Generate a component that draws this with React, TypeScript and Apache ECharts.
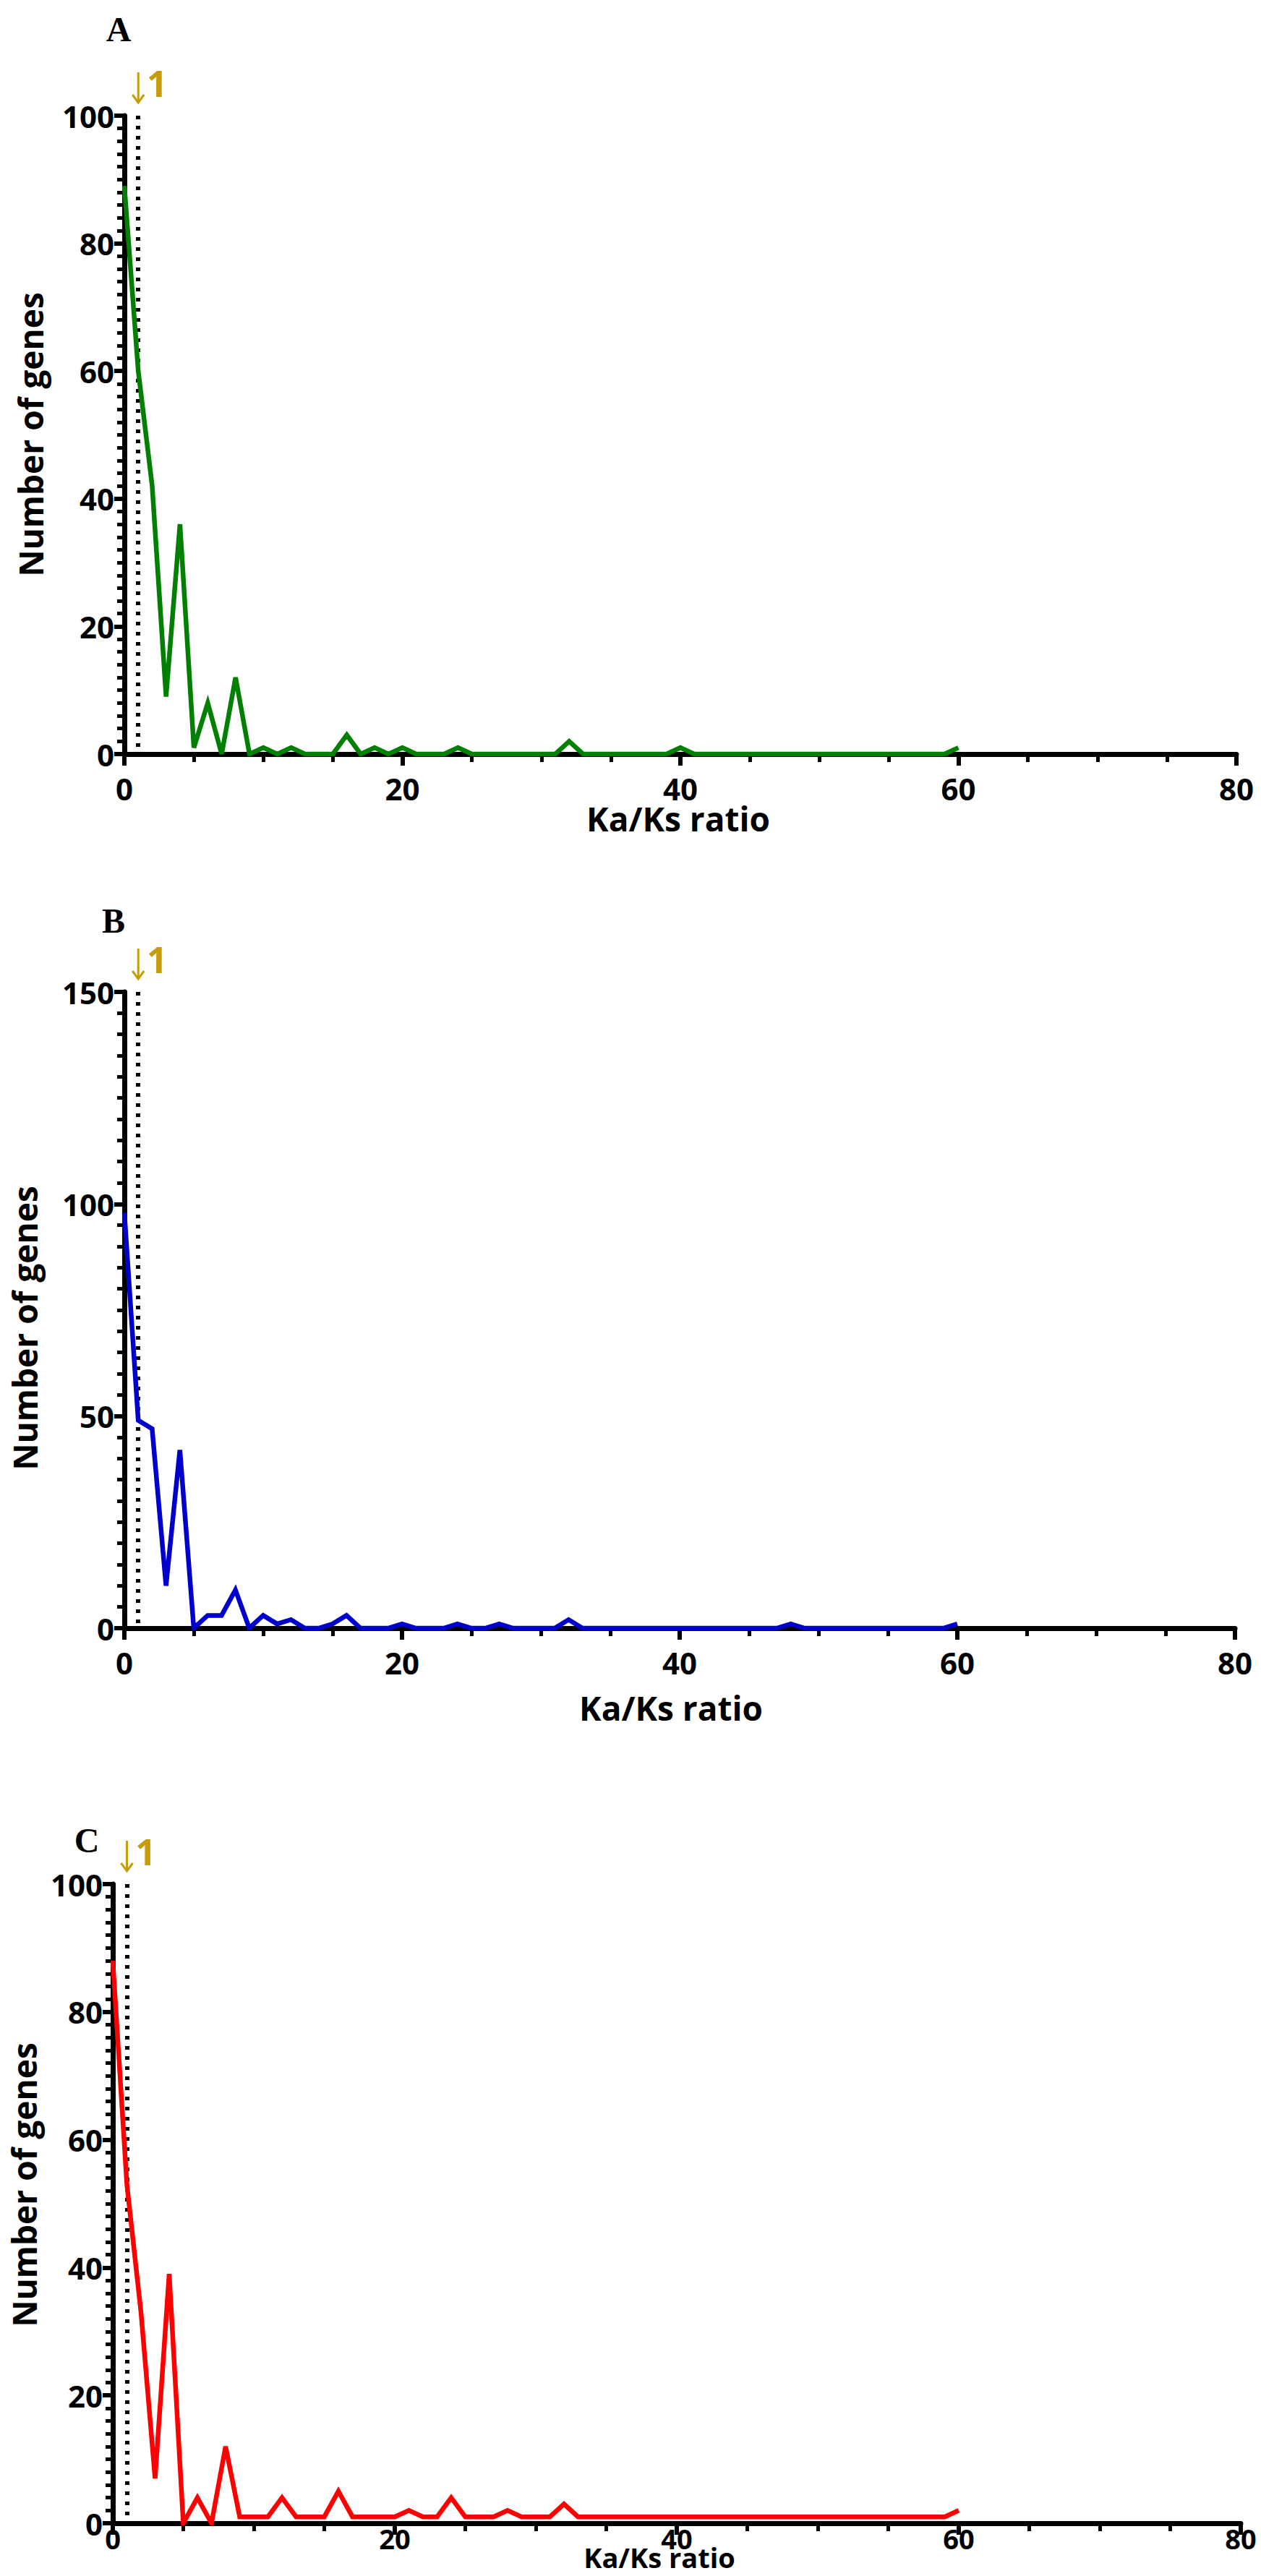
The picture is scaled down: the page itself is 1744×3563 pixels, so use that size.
import React, { useEffect, useRef } from "react";
import * as echarts from "echarts";

// Ka/Ks ratio bins (x positions of the histogram line)
const KAKS_BINS = [
  0, 1, 2, 3, 4, 5, 6, 7, 8, 9,
  10, 11, 12, 13, 14, 15, 16, 17, 18, 19,
  20, 21, 22, 23, 24, 25, 26, 27, 28, 29,
  30, 31, 32, 33, 34, 35, 36, 37, 38, 39,
  40, 41, 42, 43, 44, 45, 46, 47, 48, 49,
  50, 51, 52, 53, 54, 55, 56, 57, 58, 59,
  60,
];

// Panel A (green)
const GENES_A = [
  89, 60, 42, 9, 36, 1, 8, 0, 12, 0,
  1, 0, 1, 0, 0, 0, 3, 0, 1, 0,
  1, 0, 0, 0, 1, 0, 0, 0, 0, 0,
  0, 0, 2, 0, 0, 0, 0, 0, 0, 0,
  1, 0, 0, 0, 0, 0, 0, 0, 0, 0,
  0, 0, 0, 0, 0, 0, 0, 0, 0, 0,
  1,
];

// Panel B (blue)
const GENES_B = [
  98, 49, 47, 10, 42, 0, 3, 3, 9, 0,
  3, 1, 2, 0, 0, 1, 3, 0, 0, 0,
  1, 0, 0, 0, 1, 0, 0, 1, 0, 0,
  0, 0, 2, 0, 0, 0, 0, 0, 0, 0,
  0, 0, 0, 0, 0, 0, 0, 0, 1, 0,
  0, 0, 0, 0, 0, 0, 0, 0, 0, 0,
  1,
];

// Panel C (red)
const GENES_C = [
  88, 53, 33, 7, 39, 0, 4, 0, 12, 1,
  1, 1, 4, 1, 1, 1, 5, 1, 1, 1,
  1, 2, 1, 1, 4, 1, 1, 1, 2, 1,
  1, 1, 3, 1, 1, 1, 1, 1, 1, 1,
  1, 1, 1, 1, 1, 1, 1, 1, 1, 1,
  1, 1, 1, 1, 1, 1, 1, 1, 1, 1,
  2,
];

const PANEL_LETTERS = ["A", "B", "C"];
const X_TICKS = [0, 20, 40, 60, 80];
const Y_MAX = [100, 150, 100];
const Y_INTERVAL = [20, 50, 20];
const LINE_COLORS = ["#008000", "#0000CC", "#FF0000"];
const THRESHOLD = 1;
const X_TITLE = "Ka/Ks ratio";
const Y_TITLE = "Number of genes";

const FONT = "'Open Sans', 'Noto Sans', sans-serif";
const GOLD = "#C89B0C";

// layout (pixels)
const GRIDS = [
  { left: 172, top: 160, right: 34, height: 883 },
  { left: 172, top: 1372, right: 36, height: 880 },
  { left: 156, top: 2606, right: 28, height: 884 },
];
const LETTER_POS = [
  [164, 40],
  [157, 1273],
  [120, 2545],
];
const X_LABEL_MARGIN = [26, 26, 2];
const X_LABEL_SIZE = [42, 42, 38];
const Y_TITLE_POS = [
  [42, 601],
  [34, 1837],
  [33, 3022],
];
const X_TITLE_POS = [
  [938, 1132],
  [928, 2362],
  [912, 3537],
];
const X_TITLE_SIZE = [46, 46, 38];

export default function App() {
  const ref = useRef<HTMLDivElement>(null);

  useEffect(() => {
    if (!ref.current) return;
    const chart = echarts.init(ref.current, null, { renderer: "svg" });
    const values = [GENES_A, GENES_B, GENES_C];

    const grid = GRIDS.map((g) => ({ ...g, containLabel: false }));
    const xAxis = GRIDS.map((_, i) => ({
      type: "value",
      gridIndex: i,
      min: X_TICKS[0],
      max: X_TICKS[X_TICKS.length - 1],
      interval: X_TICKS[1] - X_TICKS[0],
      axisLine: { show: true, lineStyle: { color: "#000", width: 7 } },
      axisTick: { show: true, length: 16, lineStyle: { color: "#000", width: 6 } },
      minorTick: { show: true, splitNumber: 4, length: 11, lineStyle: { color: "#000", width: 5 } },
      splitLine: { show: false },
      minorSplitLine: { show: false },
      axisLabel: {
        color: "#000",
        fontFamily: FONT,
        fontWeight: "bold",
        fontSize: X_LABEL_SIZE[i],
        margin: X_LABEL_MARGIN[i],
      },
    }));
    const yAxis = GRIDS.map((_, i) => ({
      type: "value",
      gridIndex: i,
      min: 0,
      max: Y_MAX[i],
      interval: Y_INTERVAL[i],
      axisLine: { show: true, lineStyle: { color: "#000", width: 7 } },
      axisTick: { show: true, length: 14, lineStyle: { color: "#000", width: 6 } },
      minorTick: { show: true, splitNumber: 10, length: 10, lineStyle: { color: "#000", width: 5 } },
      splitLine: { show: false },
      minorSplitLine: { show: false },
      axisLabel: {
        color: "#000",
        fontFamily: FONT,
        fontWeight: "bold",
        fontSize: 42,
        margin: 14,
      },
    }));

    const series = values.map((vals, i) => ({
      type: "line",
      xAxisIndex: i,
      yAxisIndex: i,
      data: KAKS_BINS.map((x, k) => [x, vals[k]]),
      symbol: "none",
      lineStyle: { color: LINE_COLORS[i], width: 6.5, join: "miter" },
      z: 5,
      markLine: {
        silent: true,
        symbol: "none",
        label: { show: false },
        lineStyle: { color: "#000", width: 6, type: [5, 9], cap: "butt" },
        data: [[{ coord: [THRESHOLD, Y_MAX[i]] }, { coord: [THRESHOLD, 0] }]],
      },
    }));

    chart.setOption({
      animation: false,
      backgroundColor: "#fff",
      grid,
      xAxis,
      yAxis,
      series,
    });

    const graphic: any[] = [];
    GRIDS.forEach((g, i) => {
      const top = chart.convertToPixel({ yAxisIndex: i }, Y_MAX[i]) as number;
      const ax = chart.convertToPixel({ xAxisIndex: i }, THRESHOLD) as number;
      const tip = top - 18;
      const tail = tip - 42;
      // panel letter
      graphic.push({
        type: "text",
        x: LETTER_POS[i][0],
        y: LETTER_POS[i][1],
        style: {
          text: PANEL_LETTERS[i],
          font: "bold 48px 'Liberation Serif', 'Times New Roman', serif",
          fill: "#000",
          align: "center",
          verticalAlign: "middle",
        },
      });
      // threshold arrow
      graphic.push({
        type: "line",
        shape: { x1: ax, y1: tail, x2: ax, y2: tip - 1 },
        style: { stroke: GOLD, lineWidth: 3 },
      });
      graphic.push({
        type: "polyline",
        shape: { points: [[ax - 8, tip - 11], [ax, tip], [ax + 8, tip - 11]] },
        style: { stroke: GOLD, lineWidth: 3, fill: null },
      });
      graphic.push({
        type: "text",
        x: ax + 26,
        y: tail + 15,
        style: {
          text: "1",
          font: `bold 50px ${FONT}`,
          fill: GOLD,
          align: "center",
          verticalAlign: "middle",
        },
      });
      // y title
      graphic.push({
        type: "text",
        x: Y_TITLE_POS[i][0],
        y: Y_TITLE_POS[i][1],
        rotation: Math.PI / 2,
        style: {
          text: Y_TITLE,
          font: `bold 46px ${FONT}`,
          fill: "#000",
          align: "center",
          verticalAlign: "middle",
        },
      });
      // x title
      graphic.push({
        type: "text",
        x: X_TITLE_POS[i][0],
        y: X_TITLE_POS[i][1],
        style: {
          text: X_TITLE,
          font: `bold ${X_TITLE_SIZE[i]}px ${FONT}`,
          fill: "#000",
          align: "center",
          verticalAlign: "middle",
        },
      });
    });
    chart.setOption({ graphic });

    return () => chart.dispose();
  }, []);

  return (
    <div
      ref={ref}
      style={{ position: "absolute", left: 0, top: 0, width: 1744, height: 3563 }}
    />
  );
}
